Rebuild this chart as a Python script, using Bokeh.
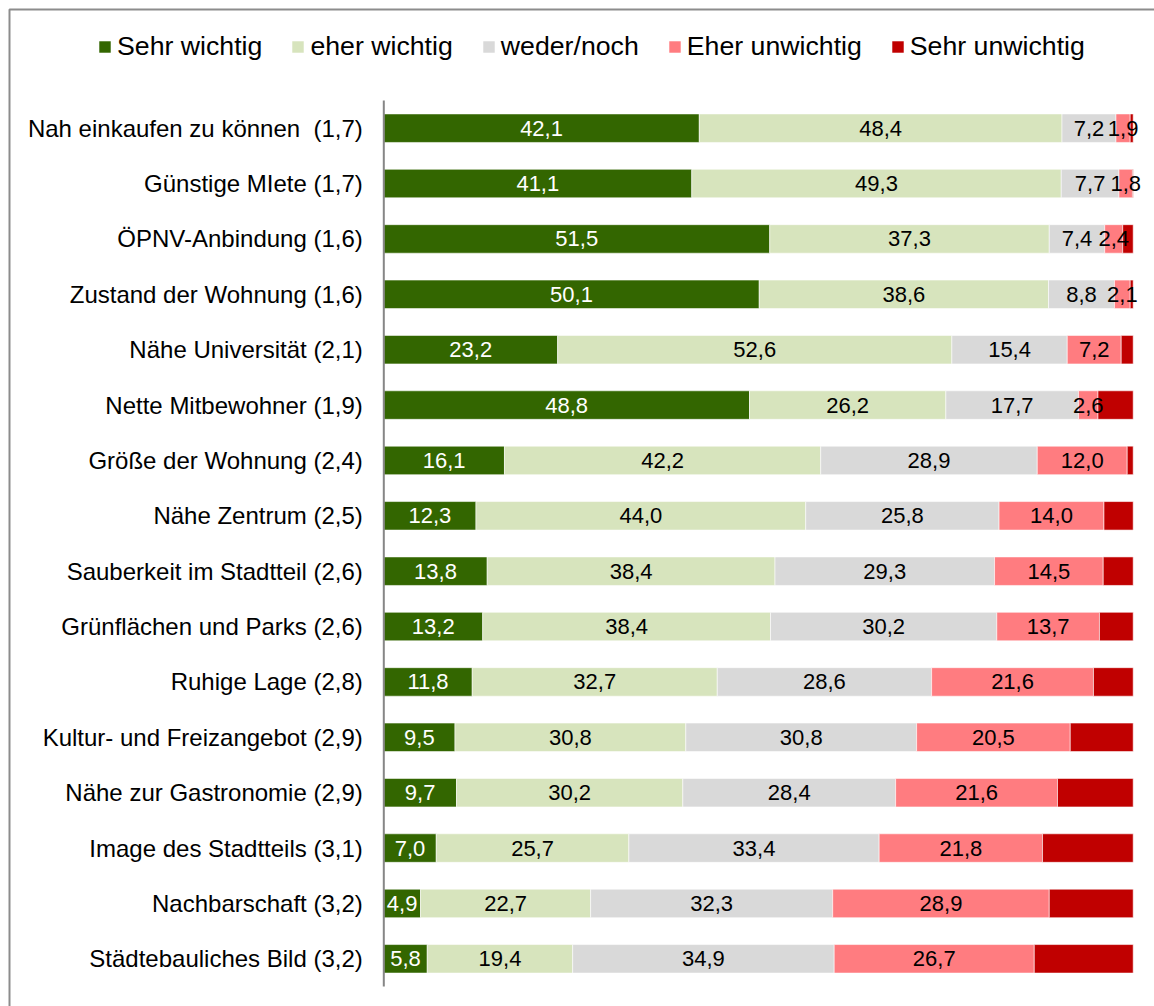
from bokeh.plotting import figure
from bokeh.models import ColumnDataSource, Range1d, Legend, LegendItem, BoxAnnotation
from bokeh.core.properties import value
from bokeh.embed import file_html
from bokeh.resources import INLINE

# ---------------- data ----------------
categories = [
    "Nah einkaufen zu können\u00a0 (1,7)",
    "Günstige MIete (1,7)",
    "ÖPNV-Anbindung (1,6)",
    "Zustand der Wohnung (1,6)",
    "Nähe Universität (2,1)",
    "Nette Mitbewohner (1,9)",
    "Größe der Wohnung (2,4)",
    "Nähe Zentrum (2,5)",
    "Sauberkeit im Stadtteil (2,6)",
    "Grünflächen und Parks (2,6)",
    "Ruhige Lage (2,8)",
    "Kultur- und Freizangebot (2,9)",
    "Nähe zur Gastronomie (2,9)",
    "Image des Stadtteils (3,1)",
    "Nachbarschaft (3,2)",
    "Städtebauliches Bild (3,2)",
]
sehr_wichtig = [42.1, 41.1, 51.5, 50.1, 23.2, 48.8, 16.1, 12.3, 13.8, 13.2, 11.8, 9.5, 9.7, 7.0, 4.9, 5.8]
eher_wichtig = [48.4, 49.3, 37.3, 38.6, 52.6, 26.2, 42.2, 44.0, 38.4, 38.4, 32.7, 30.8, 30.2, 25.7, 22.7, 19.4]
weder_noch = [7.2, 7.7, 7.4, 8.8, 15.4, 17.7, 28.9, 25.8, 29.3, 30.2, 28.6, 30.8, 28.4, 33.4, 32.3, 34.9]
eher_unwichtig = [1.9, 1.8, 2.4, 2.1, 7.2, 2.6, 12.0, 14.0, 14.5, 13.7, 21.6, 20.5, 21.6, 21.8, 28.9, 26.7]
sehr_unwichtig = [0.4, 0.1, 1.4, 0.4, 1.6, 4.7, 0.8, 3.9, 4.0, 4.5, 5.3, 8.4, 10.1, 12.1, 11.2, 13.2]

series_labels = ["Sehr wichtig", "eher wichtig", "weder/noch", "Eher unwichtig", "Sehr unwichtig"]
series_values = [sehr_wichtig, eher_wichtig, weder_noch, eher_unwichtig, sehr_unwichtig]
labelled_series = 4  # the last series carries no value labels

# ---------------- style / layout ----------------
colors = ["#336600", "#D7E4BD", "#D9D9D9", "#FF7C80", "#C00000"]
label_colors = ["#FFFFFF", "#000000", "#000000", "#000000", "#000000"]
FONT = "Liberation Sans"

W, H = 1154, 1006
ZERO_X = 383.3          # pixel of 0 %
PX_PER_PCT = 7.494      # pixels per percentage point
PLOT_TOP, ROW_PX = 100, 55.375
n = len(categories)

x_start = -ZERO_X / PX_PER_PCT
x_end = (W - ZERO_X) / PX_PER_PCT
y_top = -0.5 - PLOT_TOP / ROW_PX
y_bottom = y_top + H / ROW_PX

rows = list(range(n))
keys = [f"s{i}" for i in range(len(series_labels))]
data = {"row": rows, "cat": categories}
for k, vals in zip(keys, series_values):
    data[k] = vals
source = ColumnDataSource(data)

p = figure(
    width=W, height=H,
    x_range=Range1d(x_start, x_end),
    y_range=Range1d(y_bottom, y_top),
    output_backend="svg", toolbar_location=None,
    min_border=0, min_border_left=0, min_border_right=0,
    min_border_top=0, min_border_bottom=0,
)
p.outline_line_color = None
p.background_fill_color = "white"
p.border_fill_color = "white"
p.grid.visible = False
p.axis.visible = False

# outer chart border (only top/left edges fall inside the picture)
p.add_layout(BoxAnnotation(left=9, right=W + 20, top=9, bottom=H + 20,
                           left_units="canvas", right_units="canvas",
                           top_units="canvas", bottom_units="canvas",
                           fill_alpha=0, line_color="#8c8c8c", line_alpha=1.0,
                           line_width=2))

renderers = p.hbar_stack(keys, y="row", height=0.515, color=colors, source=source,
                         line_color="white", line_width=0.8, line_alpha=0.7)

# category axis: vertical line at 0 and right-aligned labels
p.segment(x0=[0], y0=[-0.5], x1=[0], y1=[n - 0.5], line_color="#868686", line_width=2)
p.text(x=0, y="row", text="cat", source=source, x_offset=-21,
       text_align="right", text_baseline="middle",
       text_font=value(FONT), text_font_size="24px", text_color="#000000")

# value labels centred in each segment
lx, ly, lt, lc = [], [], [], []
for i in rows:
    left = 0.0
    for s in range(len(series_values)):
        v = series_values[s][i]
        if s < labelled_series:
            lx.append(left + v / 2)
            ly.append(i)
            lt.append(f"{v:.1f}".replace(".", ","))
            lc.append(label_colors[s])
        left += v
lab_src = ColumnDataSource(dict(x=lx, y=ly, t=lt, c=lc))
p.text(x="x", y="y", text="t", text_color="c", source=lab_src,
       text_align="center", text_baseline="middle",
       text_font=value(FONT), text_font_size="22px")

legend = Legend(
    items=[LegendItem(label=l, renderers=[r]) for l, r in zip(series_labels, renderers)],
    orientation="horizontal",
    location=(97, H - 32 - 30),
    glyph_width=15, glyph_height=15,
    label_standoff=5, spacing=28, padding=0, margin=0,
    label_text_font=FONT, label_text_font_size="26.7px", label_text_color="#000000",
    border_line_color=None, background_fill_alpha=0,
)
p.add_layout(legend)

open("out.html", "w").write(file_html(p, INLINE))
